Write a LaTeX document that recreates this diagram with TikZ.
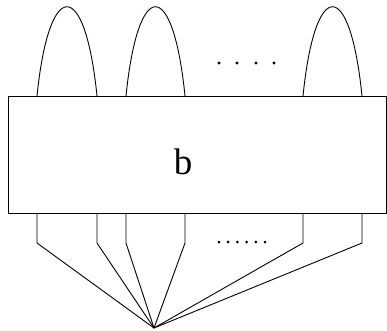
\documentclass[tikz,border=0pt]{standalone}
\usepackage{fontspec}
\setmainfont{Liberation Serif}
\begin{document}
\begin{tikzpicture}[x=1pt,y=-1pt,line width=0.9pt,
  dotmark/.style={circle,fill=black,inner sep=0pt,minimum size=3.4pt}]
\useasboundingbox (0,0) rectangle (387,330);
\node[draw=black,line width=0.9pt,minimum width=378pt,minimum height=117pt,inner sep=0pt,anchor=north west] (b) at (8,96) {};
\node[font=\fontsize{37}{44}\selectfont] (lab) at (183,162) {b};
% arches
\foreach \a/\c/\n in {37/97/1,126/185/2,303/362/3}{
  \coordinate (as\n) at (\a,96);
  \coordinate (ae\n) at (\c,96);
  \draw (as\n) .. controls ({\a+12},-23) and ({\c-12},-23) .. (ae\n);
}
\foreach \x/\n in {219/t1,237/t2,256/t3,274/t4}{
  \node[dotmark] (\n) at (\x,63) {};
}
% bottom
\coordinate (apex) at (154,328);
\foreach \x/\n in {37/1,97/2,126/3,185/4,303/5,362/6}{
  \coordinate (s\n) at (\x,213);
  \coordinate (l\n) at (\x,243);
  \draw (s\n) -- (l\n) -- (apex);
}
\foreach \x/\n in {219/d1,228.2/d2,237.4/d3,246.6/d4,255.8/d5,265/d6}{
  \node[dotmark,minimum size=3pt] (\n) at (\x,242) {};
}
\end{tikzpicture}
\end{document}
